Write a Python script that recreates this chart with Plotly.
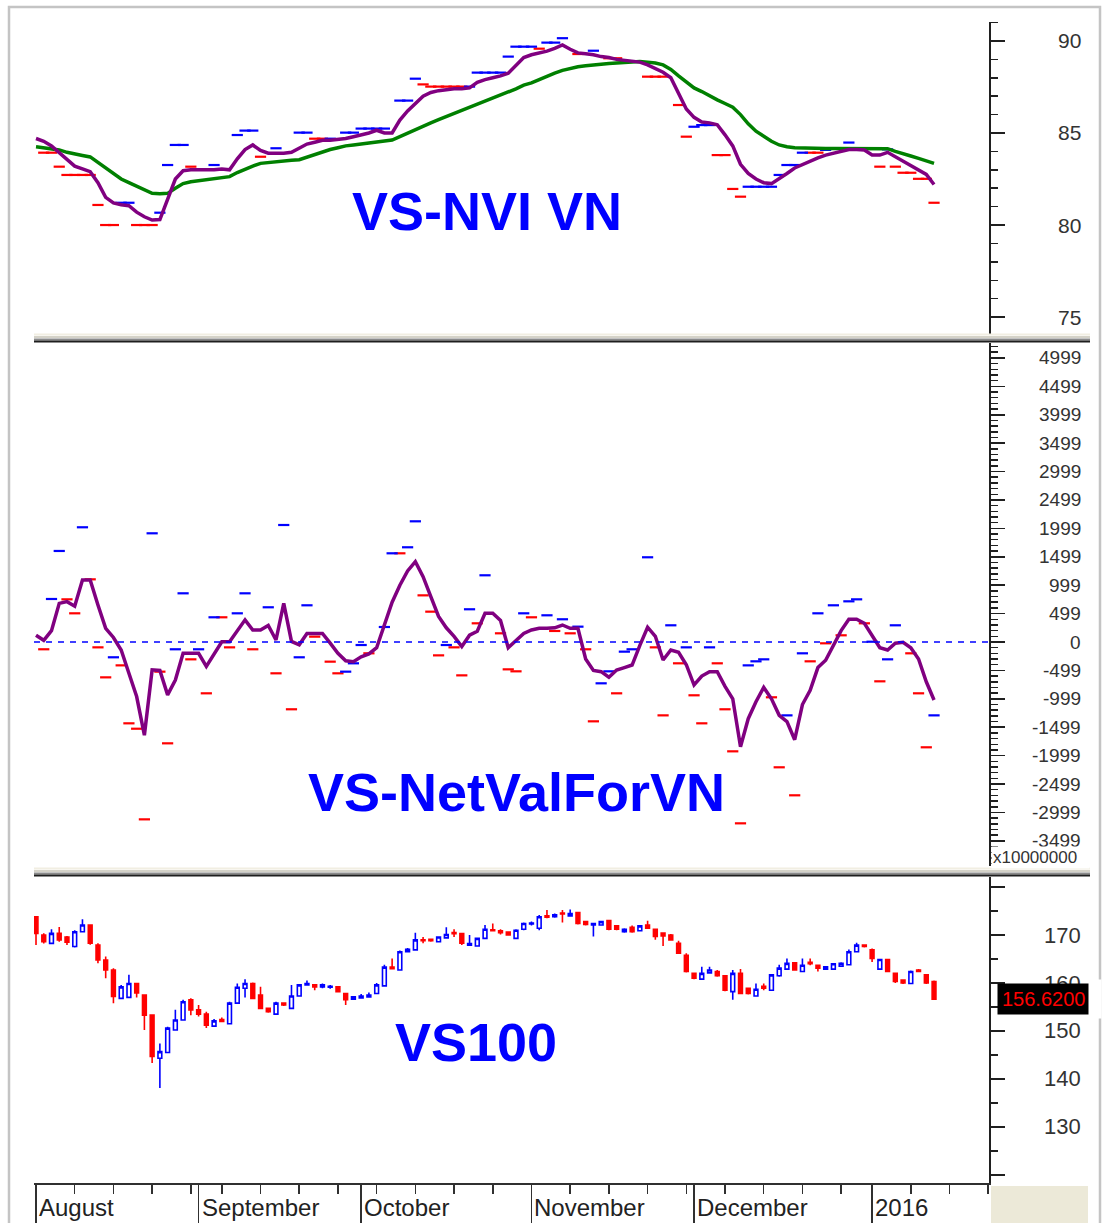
import plotly.graph_objects as go

W, H = 1105, 1223

# ---------------- data ----------------
month_labels = ["August", "September", "October", "November", "December", "2016"]
month_start_idx = [0, 21, 42, 64, 85, 108]
week_start_idx = [0, 5, 10, 15, 20, 24, 29, 34, 39, 44, 49, 54, 59, 64, 69, 74, 79, 84,
                  89, 94, 99, 104, 108, 113, 118, 123]

# VS-NVI VN (top panel)
nvi = [84.70, 84.55, 84.30, 83.95, 83.55, 83.20, 83.05, 82.90, 82.30, 81.50,
       81.20, 81.10, 81.05, 80.70, 80.45, 80.27, 80.30, 81.40, 82.50, 82.95,
       83.00, 83.00, 83.00, 83.00, 83.05, 83.00, 83.60, 84.10, 84.35, 84.05,
       83.90, 83.90, 83.90, 83.95, 84.20, 84.40, 84.50, 84.60, 84.60, 84.65,
       84.70, 84.80, 84.90, 85.00, 85.15, 85.00, 85.00, 85.70, 86.20, 86.60,
       87.00, 87.20, 87.30, 87.35, 87.40, 87.40, 87.45, 87.75, 87.90, 88.00,
       88.10, 88.25, 88.70, 89.10, 89.25, 89.35, 89.45, 89.60, 89.78, 89.55,
       89.35, 89.30, 89.25, 89.15, 89.10, 89.00, 88.95, 88.90, 88.85, 88.70,
       88.50, 88.30, 88.00, 87.20, 86.30, 85.85, 85.60, 85.55, 85.45, 84.90,
       84.30, 83.30, 82.80, 82.50, 82.30, 82.25, 82.50, 82.80, 83.10, 83.30,
       83.50, 83.65, 83.80, 83.90, 84.00, 84.10, 84.10, 84.08, 83.80, 83.80,
       83.95, 83.70, 83.45, 83.20, 83.00, 82.75, 82.20]
nvi_ma = [84.25, 84.20, 84.12, 84.08, 83.95, 83.85, 83.78, 83.70, 83.40, 83.05,
          82.75, 82.50, 82.30, 82.10, 81.90, 81.72, 81.70, 81.72, 82.00, 82.25,
          82.35, 82.40, 82.45, 82.50, 82.58, 82.63, 82.85, 83.05, 83.20, 83.35,
          83.40, 83.45, 83.48, 83.52, 83.55, 83.70, 83.85, 84.00, 84.10, 84.20,
          84.30, 84.35, 84.40, 84.45, 84.50, 84.55, 84.62, 84.80, 85.00, 85.20,
          85.40, 85.55, 85.72, 85.89, 86.05, 86.20, 86.38, 86.55, 86.70, 86.90,
          87.05, 87.20, 87.40, 87.60, 87.72, 87.90, 88.10, 88.25, 88.40, 88.50,
          88.60, 88.65, 88.70, 88.75, 88.78, 88.80, 88.82, 88.85, 88.88, 88.85,
          88.80, 88.70, 88.45, 88.10, 87.75, 87.45, 87.25, 87.00, 86.80, 86.60,
          86.40, 86.00, 85.50, 85.10, 84.80, 84.55, 84.35, 84.25, 84.20, 84.18,
          84.17, 84.17, 84.16, 84.16, 84.16, 84.16, 84.16, 84.15, 84.15, 84.16,
          84.15, 84.00, 83.85, 83.75, 83.62, 83.50, 83.35]
nvi_up_idx = [11, 12, 16, 17, 18, 19, 23, 26, 27, 28, 31, 34, 35, 38, 40, 41, 42, 43, 44, 45,
              47, 48, 49, 56, 57, 58, 59, 60, 61, 62, 63, 64, 66, 67, 68, 72, 85, 86, 87, 92,
              93, 94, 95, 96, 97, 98, 99, 102, 105, 110]
nvi_up_val = [81.21, 81.21, 80.67, 83.26, 84.35, 84.35, 83.26, 84.89, 85.13, 85.13,
              84.17, 85.02, 85.02, 84.69, 85.02, 85.02, 85.24, 85.24, 85.24, 85.24,
              86.76, 86.76, 87.95, 87.52, 88.28, 88.28, 88.28, 88.28, 89.15, 89.69,
              89.69, 89.69, 89.91, 89.91, 90.15, 89.47, 85.34, 85.43, 85.43, 82.08,
              82.08, 82.08, 82.08, 82.72, 83.26, 83.26, 83.93, 84.08, 84.48, 84.11]
nvi_dn_idx = [1, 2, 3, 4, 5, 6, 7, 8, 9, 10, 13, 14, 15, 20, 29, 36, 37, 50, 51, 52,
              53, 54, 55, 65, 70, 74, 75, 79, 80, 81, 83, 84, 88, 89, 90, 91, 100, 101, 109, 111,
              112, 113, 114, 115, 116]
nvi_dn_val = [83.93, 83.93, 83.17, 82.72, 82.72, 82.72, 82.72, 81.09, 80.0, 80.0,
              80.0, 80.0, 80.0, 83.17, 83.71, 84.69, 84.69, 87.64, 87.52, 87.52,
              87.52, 87.52, 87.52, 89.58, 89.29, 89.06, 89.06, 88.06, 88.06, 88.06,
              86.52, 84.8, 83.8, 83.8, 81.96, 81.54, 83.93, 83.93, 83.17, 83.17,
              82.84, 82.84, 82.51, 82.51, 81.21]
nvi_ticks = [75, 80, 85, 90]

# VS-NetValForVN (middle panel, x10000000)
netval = [120, 30, 200, 680, 710, 630, 1090, 1090, 650, 240,
          80, -140, -550, -960, -1640, -490, -500, -930, -670, -200,
          -200, -200, -430, -200, 5, 5, 200, 390, 210, 210,
          290, 35, 680, 10, -50, 150, 150, 150, -20, -200,
          -330, -346, -260, -210, -100, 300, 700, 1000, 1250, 1413,
          1150, 800, 450, 250, 100, -80, 120, 190, 505, 505,
          380, -100, 20, 150, 211, 241, 241, 250, 299, 241,
          241, -300, -500, -522, -620, -493, -450, -405, -60, 260,
          100, -317, -141, -180, -400, -757, -600, -522, -522, -780,
          -1000, -1843, -1350, -1050, -800, -1000, -1290, -1400, -1720, -1100,
          -850, -450, -320, -50, 200, 400, 400, 330, 100, -100,
          -140, -20, -5, -100, -300, -700, -1021]
netval_up_idx = [2, 3, 6, 10, 15, 18, 19, 21, 23, 26, 27, 30, 32, 34, 35, 40, 41, 42, 45, 46,
                 48, 49, 53, 56, 58, 63, 66, 68, 70, 73, 74, 76, 77, 79, 82, 84, 87, 92, 93, 94,
                 97, 99, 101, 103, 105, 106, 108, 110, 111, 116]
netval_up_val = [757, 1602, 2019, -269, 1913, -128, 857, -128, 435, 505,
                 857, 611, 2059, -269, 646, -522, -375, -53, 264, 1561,
                 1667, 2124, -53, 576, 1174, 505, 470, 400, 270, -727,
                 -516, -170, -128, 1491, 294, -94, -94, -411, -340, -305,
                 -1291, -199, 505, 646, 716, 751, 5, -305, 294, -1291]
netval_dn_idx = [1, 4, 5, 7, 8, 9, 11, 12, 13, 14, 16, 17, 20, 22, 24, 25, 28, 31, 33, 36,
                 38, 39, 43, 47, 50, 51, 52, 54, 55, 57, 60, 61, 62, 64, 67, 69, 71, 72, 75, 80,
                 81, 83, 85, 86, 88, 89, 90, 91, 95, 96, 98, 100, 102, 104, 107, 109, 113, 114, 115]
netval_dn_val = [-128, 751, 505, 1103, -94, -622, -411, -1431, -1526, -3121,
                 -522, -1783, -305, -903, 435, -94, -128, -551, -1184, 94,
                 -346, -551, -199, 1561, 821, 534, -235, -94, -587, 329,
                 153, -481, -516, 435, 194, 153, -128, -1396, -903, -94,
                 -1291, -375, -938, -1431, -375, -1184, -1924, -3191, -973, -2205,
                 -2698, -340, -23, 118, 329, -692, -199, -903, -1853]
netval_ticks = [4999, 4499, 3999, 3499, 2999, 2499, 1999, 1499, 999, 499, 0,
                -499, -999, -1499, -1999, -2499, -2999, -3499]

# VS100 (bottom panel) OHLC
vs_open = [173.8, 170.0, 168.26, 170.35, 169.6, 167.6, 170.7, 172.1, 167.9, 164.8,
           162.7, 156.8, 157.0, 159.9, 157.5, 153.3, 144.3, 145.5, 150.2, 152.3,
           156.5, 154.4, 153.5, 151.0, 152.4, 151.5, 155.8, 158.9, 159.9, 157.5,
           154.7, 153.5, 155.8, 154.7, 157.3, 159.6, 159.6, 159.2, 159.1, 159.2,
           157.8, 156.6, 156.9, 157.1, 157.8, 159.4, 163.3, 162.7, 166.5, 166.9,
           169.0, 169.1, 168.6, 169.4, 170.5, 170.3, 167.9, 167.7, 169.3, 171.1,
           170.9, 170.6, 169.3, 171.2, 172.3, 171.4, 174.0, 173.8, 174.6, 174.0,
           174.7, 172.8, 172.1, 172.1, 173.0, 171.9, 170.7, 171.6, 170.9, 172.1,
           171.2, 170.4, 170.0, 168.3, 165.8, 162.0, 160.8, 162.1, 162.4, 161.5,
           158.2, 162.0, 158.9, 157.3, 159.3, 158.5, 161.5, 162.9, 164.2, 162.4,
           164.3, 163.7, 162.9, 162.9, 163.5, 163.8, 166.5, 167.9, 166.9, 162.9,
           164.9, 162.0, 160.6, 159.9, 162.7, 161.7, 160.3]
vs_high = [173.8, 170.35, 171.18, 171.7, 169.8, 171.0, 173.3, 172.1, 168.3, 165.5,
           163.1, 159.6, 161.7, 159.9, 157.5, 153.3, 147.4, 150.9, 154.4, 156.5,
           156.8, 155.4, 154.0, 152.5, 152.8, 156.1, 159.9, 160.8, 160.1, 159.2,
           154.9, 156.1, 156.0, 159.6, 159.7, 160.5, 159.8, 159.9, 159.6, 159.3,
           157.8, 157.2, 157.7, 158.0, 160.0, 163.8, 165.1, 166.8, 167.3, 170.5,
           169.6, 169.3, 169.7, 171.6, 171.2, 170.5, 170.0, 169.5, 172.1, 172.4,
           171.2, 170.8, 171.2, 172.6, 172.8, 174.2, 175.2, 174.5, 175.2, 175.3,
           174.8, 173.0, 172.5, 173.0, 173.2, 172.1, 171.4, 172.0, 172.1, 173.0,
           171.2, 170.6, 170.2, 168.8, 166.2, 162.2, 163.4, 163.4, 162.7, 161.6,
           162.7, 162.9, 159.0, 159.9, 159.9, 161.9, 163.8, 165.1, 164.4, 165.1,
           165.1, 163.8, 163.5, 164.1, 164.3, 167.0, 168.4, 168.1, 167.2, 165.0,
           165.0, 162.2, 160.8, 162.6, 162.9, 161.9, 160.5]
vs_low = [167.9, 168.26, 168.26, 168.6, 167.9, 167.4, 170.7, 168.0, 164.1, 161.0,
          155.8, 156.8, 156.8, 157.0, 150.2, 143.3, 138.1, 145.5, 150.2, 152.3,
          153.3, 153.0, 150.6, 151.0, 152.0, 151.5, 155.8, 157.0, 156.8, 154.7,
          153.8, 153.5, 155.2, 154.7, 157.3, 159.6, 158.5, 158.9, 158.8, 158.1,
          155.4, 156.5, 156.7, 157.0, 157.8, 159.4, 163.0, 162.7, 166.4, 166.9,
          168.3, 168.6, 168.6, 169.4, 169.6, 167.9, 167.7, 167.7, 169.3, 170.8,
          170.1, 169.9, 169.3, 171.0, 172.0, 171.0, 173.5, 173.6, 172.6, 173.8,
          172.2, 172.0, 169.7, 172.0, 171.0, 171.0, 170.5, 170.5, 170.8, 171.3,
          169.0, 167.7, 168.8, 166.2, 162.2, 160.8, 160.8, 162.0, 161.3, 158.3,
          156.5, 157.8, 157.6, 157.3, 158.5, 158.5, 161.3, 162.7, 162.6, 162.4,
          163.7, 162.4, 162.8, 162.9, 163.4, 163.7, 166.5, 167.4, 164.4, 162.8,
          162.3, 160.0, 159.8, 159.9, 162.3, 159.8, 156.6]
vs_close = [170.35, 168.6, 170.35, 168.96, 168.5, 170.7, 172.1, 168.3, 164.8, 162.7,
            157.2, 159.2, 159.9, 157.9, 153.3, 144.7, 145.7, 150.6, 152.3, 156.1,
            154.4, 153.5, 151.2, 152.1, 152.0, 155.8, 159.1, 159.9, 156.8, 154.7,
            154.0, 155.8, 155.4, 157.3, 159.6, 159.9, 159.2, 159.6, 159.3, 158.2,
            156.5, 157.1, 157.3, 157.5, 159.6, 163.3, 163.0, 166.5, 167.0, 169.0,
            168.8, 168.8, 169.6, 170.1, 170.3, 168.3, 168.2, 169.3, 171.2, 170.9,
            170.5, 170.0, 171.0, 172.4, 172.5, 173.8, 173.7, 174.2, 174.4, 174.5,
            172.4, 172.2, 172.4, 172.8, 171.2, 171.2, 171.2, 170.7, 171.9, 171.4,
            169.7, 169.8, 169.0, 166.2, 162.4, 161.0, 162.0, 162.7, 161.5, 158.5,
            162.0, 157.8, 157.8, 158.7, 158.9, 161.7, 163.1, 164.1, 162.7, 163.7,
            164.0, 163.1, 163.4, 164.0, 164.1, 166.5, 167.9, 167.6, 165.1, 164.9,
            162.4, 160.3, 160.0, 162.4, 162.4, 160.0, 156.62]
vs_ticks = [130, 140, 150, 160, 170]

titles = ["VS-NVI VN", "VS-NetValForVN", "VS100"]

# ---------------- helpers ----------------
def px(x):
    return x / W

def py(y):
    return 1 - y / H

N = len(nvi)
idx = list(range(N))
FONT = "Liberation Sans"

fig = go.Figure()

def dash_trace(xs, ys, color, yaxis):
    return go.Scatter(x=xs, y=ys, mode="markers", yaxis=yaxis, xaxis="x",
                      marker=dict(symbol="line-ew", size=8,
                                  line=dict(color=color, width=2.2)),
                      showlegend=False, hoverinfo="skip")

# top panel
fig.add_trace(dash_trace(nvi_dn_idx, nvi_dn_val, "#ff0000", "y"))
fig.add_trace(dash_trace(nvi_up_idx, nvi_up_val, "#0000ff", "y"))
fig.add_trace(go.Scatter(x=idx, y=nvi_ma, mode="lines", line=dict(color="#008000", width=3.5),
                         xaxis="x", yaxis="y", showlegend=False))
fig.add_trace(go.Scatter(x=idx, y=nvi, mode="lines", line=dict(color="#800080", width=3.5),
                         xaxis="x", yaxis="y", showlegend=False))
# middle panel
fig.add_trace(dash_trace(netval_dn_idx, netval_dn_val, "#ff0000", "y2"))
fig.add_trace(dash_trace(netval_up_idx, netval_up_val, "#0000ff", "y2"))
fig.add_trace(go.Scatter(x=idx, y=netval, mode="lines", line=dict(color="#800080", width=3.5),
                         xaxis="x", yaxis="y2", showlegend=False))
# bottom panel
fig.add_trace(go.Candlestick(x=idx, open=vs_open, high=vs_high, low=vs_low, close=vs_close,
                             xaxis="x", yaxis="y3", whiskerwidth=0,
                             increasing=dict(line=dict(color="#0000ff", width=1.6), fillcolor="#ffffff"),
                             decreasing=dict(line=dict(color="#ff0000", width=1.6), fillcolor="#ff0000"),
                             showlegend=False))

xdom = [px(34), px(989)]

def yax(dom_top, dom_bot, rng, major, minor):
    return dict(domain=[py(dom_bot), py(dom_top)], range=rng, side="right", anchor="x",
                showline=True, linecolor="#202020", linewidth=2, showgrid=False, zeroline=False,
                ticks="outside", tickmode="array", tickvals=major, ticklen=14, tickwidth=1.5,
                tickcolor="#202020", showticklabels=False, fixedrange=True,
                minor=dict(tickmode="array", tickvals=minor, ticks="outside", ticklen=7,
                           tickwidth=1.5, tickcolor="#202020"))

top_minor = list(range(74, 92))
mid_minor = [v for v in range(-3900, 5300, 100) if v % 500 != 0]
bot_minor = list(range(120, 185, 5))

fig.update_layout(
    width=W, height=H, margin=dict(l=0, r=0, t=0, b=0),
    paper_bgcolor="#ffffff", plot_bgcolor="#ffffff",
    font=dict(family=FONT, color="#333333"),
    showlegend=False, hovermode=False,
    xaxis=dict(domain=xdom, range=[-0.26, 123.1], anchor="y3", showline=True,
               linecolor="#303030", linewidth=2, showgrid=False, zeroline=False,
               ticks="outside", tickmode="array", tickvals=month_start_idx, ticklen=40,
               tickwidth=1.5, tickcolor="#303030", showticklabels=False, fixedrange=True,
               rangeslider=dict(visible=False),
               minor=dict(tickmode="array", tickvals=week_start_idx, ticks="outside",
                          ticklen=9, tickwidth=1.5, tickcolor="#303030")),
    yaxis=yax(22, 334, [74.08, 91.03], nvi_ticks, top_minor),
    yaxis2=yax(343, 866, [-3942, 5262], netval_ticks, mid_minor),
    yaxis3=yax(877, 1183, [118.3, 182.1], [120, 130, 140, 150, 160, 170, 180], bot_minor),
)

shapes = []
# outer frame
shapes.append(dict(type="rect", xref="paper", yref="paper", x0=px(9), x1=px(1100),
                   y0=py(1240), y1=py(7), line=dict(color="#c4c4c4", width=2.5),
                   fillcolor="rgba(0,0,0,0)", layer="below"))
# panel separators
for ys in ([(334.5, "#f1eee2", 2), (337, "#d4d2c8", 2), (339.5, "#8a8a8a", 2), (341.5, "#1e1e1e", 2)],
           [(868.5, "#f1eee2", 2), (871, "#d4d2c8", 2), (873.5, "#8a8a8a", 2), (875.5, "#1e1e1e", 2)]):
    for y, c, w in ys:
        shapes.append(dict(type="line", xref="paper", yref="paper", x0=px(34), x1=px(1090),
                           y0=py(y), y1=py(y), line=dict(color=c, width=w)))
# beige corner box
shapes.append(dict(type="rect", xref="paper", yref="paper", x0=px(991), x1=px(1088),
                   y0=py(1223), y1=py(1186), fillcolor="#ece9d8", line=dict(width=0)))
# zero line in middle panel
shapes.append(dict(type="line", xref="paper", yref="y2", x0=px(34), x1=px(989), y0=0, y1=0,
                   line=dict(color="#0000ff", width=1.5, dash="6px,6px")))
fig.update_layout(shapes=shapes)

ann = []
LBL_X = px(1083)
for v in nvi_ticks:
    ann.append(dict(x=LBL_X, xref="paper", y=v, yref="y", text=str(v), showarrow=False,
                    xanchor="right", yanchor="middle", font=dict(size=21, color="#333333")))
for v in netval_ticks:
    ann.append(dict(x=LBL_X, xref="paper", y=v, yref="y2", text=str(v), showarrow=False,
                    xanchor="right", yanchor="middle", font=dict(size=19, color="#333333")))
for v in vs_ticks:
    ann.append(dict(x=LBL_X, xref="paper", y=v, yref="y3", text=str(v), showarrow=False,
                    xanchor="right", yanchor="middle", font=dict(size=22, color="#333333")))
# scale note box (covers the cut -3499 label)
ann.append(dict(x=px(991), xref="paper", y=py(857), yref="paper", text="x10000000",
                showarrow=False, xanchor="left", yanchor="middle", bgcolor="#ffffff",
                width=95, height=19, align="left", font=dict(size=17, color="#333333")))
# last price box
ann.append(dict(x=px(997), xref="paper", y=vs_close[-1], yref="y3",
                text="%.4f" % vs_close[-1], showarrow=False, xanchor="left", yanchor="middle",
                bgcolor="#000000", borderpad=4, font=dict(size=20, color="#ff0000")))
ann.append(dict(x=px(1088), xref="paper", y=vs_close[-1], yref="y3", text=" ", showarrow=False,
                xanchor="left", yanchor="middle", bgcolor="#ffffff", width=10, height=36))
# month labels
for lbl, i in zip(month_labels, month_start_idx):
    ann.append(dict(x=i, xref="x", y=py(1207), yref="paper", text=lbl, showarrow=False,
                    xanchor="left", yanchor="middle", xshift=1,
                    font=dict(size=24, color="#222222")))
# big titles
for t, (cx, cy) in zip(titles, [(487, 211), (516, 792), (476, 1042)]):
    ann.append(dict(x=px(cx), xref="paper", y=py(cy), yref="paper", text="<b>%s</b>" % t,
                    showarrow=False, xanchor="center", yanchor="middle",
                    font=dict(size=54, color="#0000ff", family=FONT)))
fig.update_layout(annotations=ann)

fig.write_html("out.html", config={"displayModeBar": False, "staticPlot": True},
               post_script="document.body.style.margin='0';document.body.style.overflow='hidden';")
